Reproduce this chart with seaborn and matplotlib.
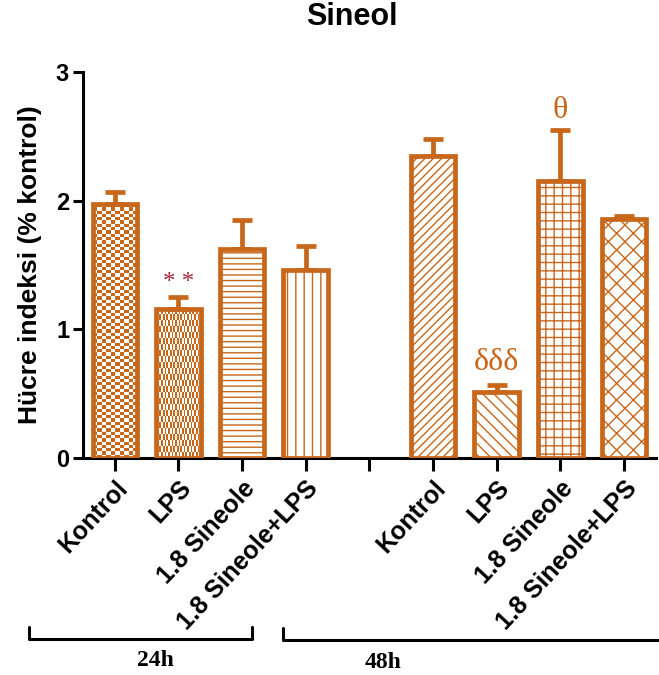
import numpy as np
import pandas as pd
import matplotlib
matplotlib.use("Agg")
import matplotlib.pyplot as plt
from matplotlib.colors import ListedColormap
from matplotlib.lines import Line2D
import seaborn as sns

# ---- data ----
groups = ["24h", "48h"]
treatments = ["Kontrol", "LPS", "1.8 Sineole", "1.8 Sineole+LPS"]
means_24h = [1.97, 1.16, 1.62, 1.46]
means_48h = [2.35, 0.51, 2.15, 1.86]
sem_24h = [0.10, 0.09, 0.23, 0.19]
sem_48h = [0.13, 0.06, 0.40, 0.02]
annotations = {("24h", "LPS"): "* *", ("48h", "LPS"): "δδδ", ("48h", "1.8 Sineole"): "θ"}

ORANGE = "#C8661A"
DARKRED = "#A52A3A"

sns.set_theme(style="ticks")
plt.rcParams["font.family"] = ["Liberation Sans", "DejaVu Sans"]
plt.rcParams["font.weight"] = "bold"
plt.rcParams["hatch.linewidth"] = 1.0
plt.rcParams["hatch.color"] = ORANGE
for k in ["text.color", "axes.labelcolor", "xtick.color", "ytick.color", "axes.edgecolor"]:
    plt.rcParams[k] = "black"

rows = []
for gi, (g, means, sems) in enumerate([("24h", means_24h, sem_24h), ("48h", means_48h, sem_48h)]):
    for ti, t in enumerate(treatments):
        rows.append({"group": g, "treatment": t, "pos": gi * (len(treatments) + 1) + ti,
                     "mean": means[ti], "sem": sems[ti]})
df = pd.DataFrame(rows)

fig = plt.figure(figsize=(6.59, 6.75), dpi=100)
ax = fig.add_axes([0.126, 0.3215, 0.869, 0.572])

sns.barplot(data=df, x="pos", y="mean", native_scale=True, width=0.7,
            color=ORANGE, saturation=1, errorbar=None, ax=ax)

hatches = [None, None, "---", "||", "////", "\\\\\\", "++", "xx"]
checker = {0: 4, 1: 9}  # checkerboard cell size in px
bars = sorted(ax.patches, key=lambda p: p.get_x())
for i, p in enumerate(bars):
    p.set_facecolor("white")
    p.set_edgecolor(ORANGE)
    p.set_linewidth(3.4)
    p.set_zorder(3)
    if hatches[i]:
        p.set_hatch(hatches[i])

fig.canvas.draw()
for i, cell in checker.items():
    p = bars[i]
    p.set_facecolor("none")
    x0, y0 = p.get_x(), p.get_y()
    x1, y1 = x0 + p.get_width(), y0 + p.get_height()
    (px0, py0), (px1, py1) = ax.transData.transform([(x0, y0), (x1, y1)])
    nx = max(1, int(round((px1 - px0) / cell)))
    ny = max(1, int(round((py1 - py0) / cell)))
    arr = (np.add.outer(np.arange(ny), np.arange(nx)) % 2).astype(float)
    im = ax.imshow(arr, extent=(x0, x1, y0, y1), aspect="auto", origin="lower",
                   cmap=ListedColormap(["white", ORANGE]), interpolation="nearest", zorder=2)
    im.set_clip_path(p)

# error bars (upper only)
ax.errorbar(df["pos"], df["mean"], yerr=[np.zeros(len(df)), df["sem"]], fmt="none",
            ecolor=ORANGE, elinewidth=3.4, capsize=7, capthick=3.4, zorder=2.5)

# annotations
ann_style = {"* *": (DARKRED, 18, 10), "δδδ": (ORANGE, 23, 16), "θ": (ORANGE, 23, 14)}
for (g, t), txt in annotations.items():
    r = df[(df.group == g) & (df.treatment == t)].iloc[0]
    col, fs, off = ann_style[txt]
    ax.annotate(txt, (r["pos"], r["mean"] + r["sem"]), xytext=(0, off), textcoords="offset points",
                ha="center", va="center", color=col, fontsize=fs,
                family="Liberation Serif", fontweight="normal")

ax.set_ylim(0, 3)
ax.set_xlim(-0.5, 8.5)
ax.set_yticks([0, 1, 2, 3])
ax.set_yticklabels(["0", "1", "2", "3"], fontsize=17, fontweight="bold")
ticks = list(range(2 * len(treatments) + 1))
labels = treatments + [""] + treatments
ax.set_xticks(ticks)
ax.set_xticklabels(labels, rotation=47, ha="right", rotation_mode="anchor",
                   fontsize=18, fontweight="bold")
ax.set_xlabel("")
ax.set_ylabel("Hücre indeksi (% kontrol)", fontsize=19, fontweight="bold", labelpad=10)
sns.despine(ax=ax)
for s in ["left", "bottom"]:
    ax.spines[s].set_linewidth(2.2)
    ax.spines[s].set_color("black")
ax.tick_params(axis="x", length=9, width=2.2, pad=4, color="black")
ax.tick_params(axis="y", length=7, width=2.2, pad=3, color="black")

fig.text(0.534, 0.975, "Sineol", ha="center", va="center", fontsize=22, fontweight="bold")

# group brackets
W, H = 659, 675
def bracket(xa, xb, y, label, lx, ly):
    fig.add_artist(Line2D([xa / W, xa / W, xb / W, xb / W],
                          [1 - (y - 12) / H, 1 - y / H, 1 - y / H, 1 - (y - 12) / H],
                          color="black", lw=2.2, transform=fig.transFigure))
    fig.text(lx / W, 1 - ly / H, label, ha="center", va="center", fontsize=17,
             family="Liberation Serif", fontweight="bold")

bracket(29, 252, 639, groups[0], 155, 661)
bracket(283, 665, 640, groups[1], 383, 663)

fig.savefig("out.png", dpi=100)
